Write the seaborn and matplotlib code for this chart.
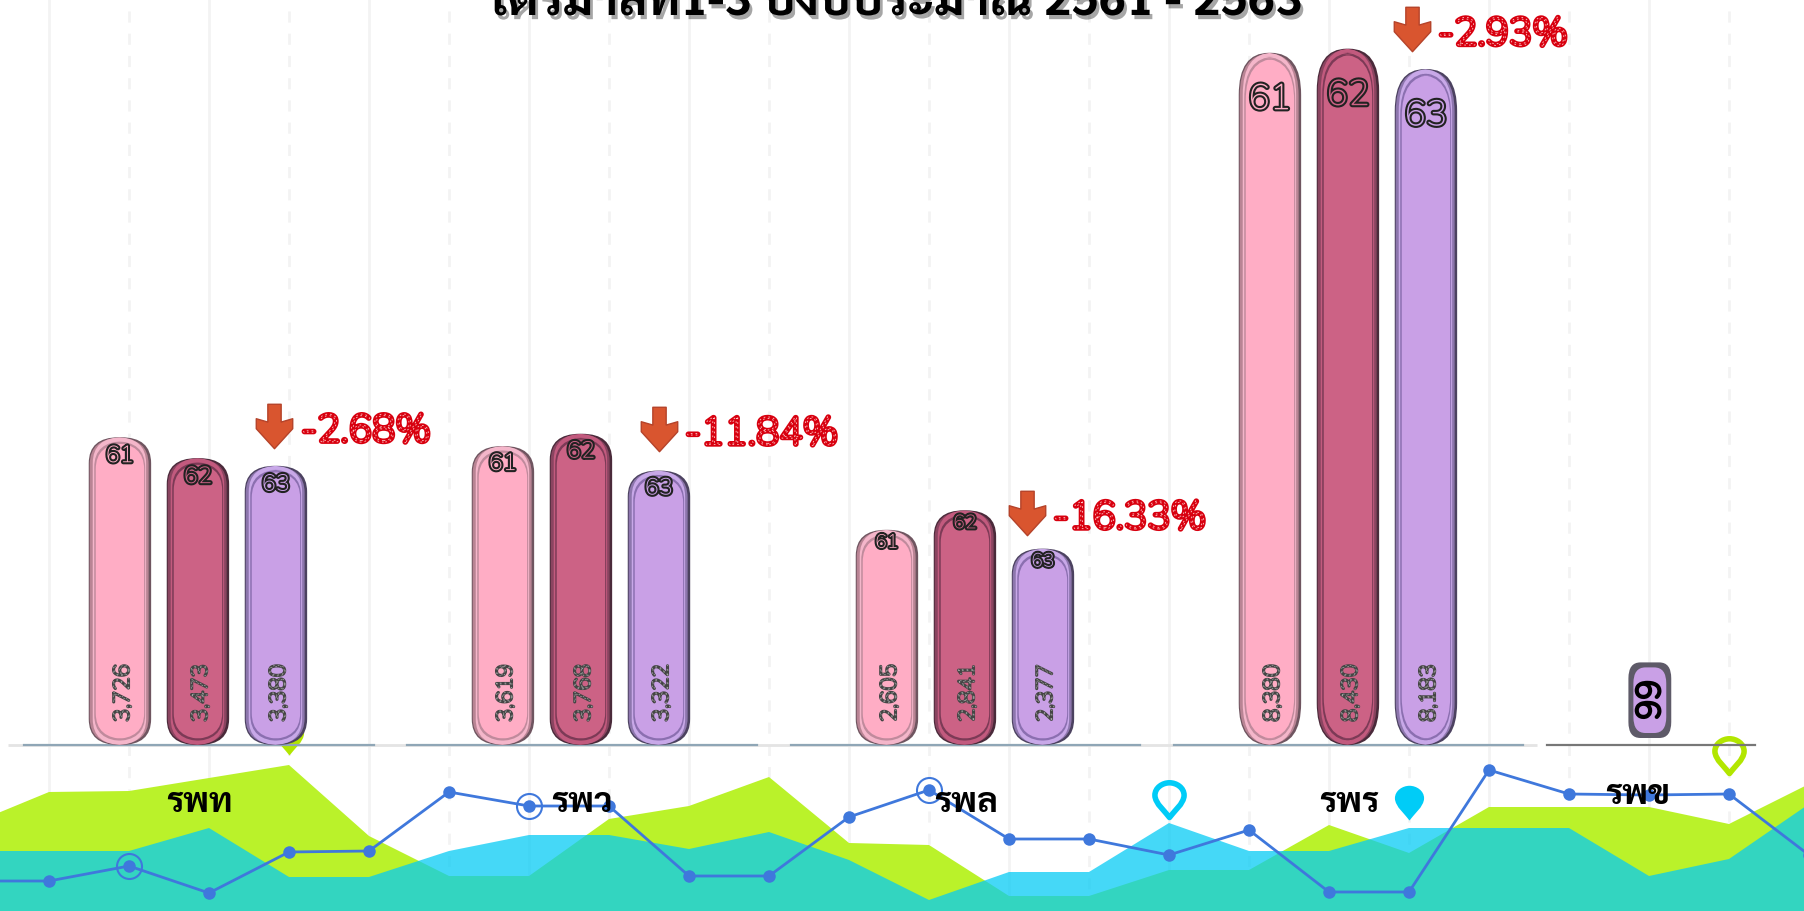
import matplotlib
matplotlib.use("Agg")
import matplotlib.pyplot as plt
import matplotlib.patheffects as pe
from matplotlib.patches import FancyBboxPatch
from matplotlib.path import Path
from matplotlib.transforms import offset_copy
import seaborn as sns
import pandas as pd
import logging

logging.getLogger('matplotlib.font_manager').setLevel(logging.ERROR)

# data
hospitals = ['รพท', 'รพว', 'รพล', 'รพร']
years = ['61', '62', '63']
values = [[3726, 3473, 3380], [3619, 3768, 3322], [2605, 2841, 2377], [8380, 8430, 8183]]
changes = ['-2.68%', '-11.84%', '-16.33%', '-2.93%']
last_hospital = 'รพข'
last_year = '66'
last_value = 1000
title = 'ไตรมาสที่1-3 ปีงบประมาณ 2561 - 2563'

# background series, one point every 80 px
bg_idx = list(range(-1, 23))
lime_vals = [86, 119, 120, 133, 146, 75, 35, 35, 92, 105, 134, 68, 66, 15, 15, 41, 41, 86, 58, 104, 104, 104, 87, 127]
blue_vals = [60, 60, 60, 83, 34, 34, 60, 76, 76, 62, 79, 51, 11, 39, 39, 88, 60, 60, 83, 83, 83, 35, 52, 107]
line_vals = [30, 30, 45, 18, 59, 60, 119, 105, 105, 35, 35, 94, 121, 72, 72, 56, 81, 19, 19, 141, 117, 116, 117, 56]
ring_idx = [1, 6, 11]
pin_idx = [3, 14, 17, 21]
pin_vals = [156, 94, 91, 138]

sns.set_style("white")
thai = ['Sarabun', 'Noto Sans Thai', 'DejaVu Sans']
plt.rcParams['font.family'] = thai
round_font = ['Nunito', 'DejaVu Sans']

W, H = 1804, 911
BASE = 745  # pixel row of bar baseline
fig = plt.figure(figsize=(W / 100, H / 100), dpi=100, facecolor='white')


class Dotted(pe.AbstractPathEffect):
    # dotted stroke along the glyph outline
    def __init__(self, color, lw):
        super().__init__()
        self.color, self.lw = color, lw

    def draw_path(self, renderer, gc, tpath, affine, rgbFace=None):
        gc0 = renderer.new_gc()
        gc0.copy_properties(gc)
        gc0.set_foreground(self.color)
        gc0.set_linewidth(self.lw)
        gc0.set_dashes(0, [1.2, 2.2])
        renderer.draw_path(gc0, tpath, affine + self._offset_transform(renderer), None)
        gc0.restore()


# background chart
bg = fig.add_axes([0, 0, 1, 1], zorder=0)
bg.set_xlim(-49 / 80, (W - 49) / 80)
bg.set_ylim(0, H)
bg.fill_between(bg_idx, lime_vals, color='#baf22a', lw=0, zorder=2)
bg.fill_between(bg_idx, blue_vals, color='#04cbf5', alpha=0.74, lw=0, zorder=3)
df_line = pd.DataFrame({'i': bg_idx, 'v': line_vals})
sns.lineplot(data=df_line, x='i', y='v', color='#3f78dc', lw=2, marker='o', ms=9, mew=0, ax=bg, zorder=4)
rings = df_line[df_line['i'].isin(ring_idx)]
bg.plot(rings['i'], rings['v'], ls='', marker='o', ms=18, mfc='none', mec='#3f78dc', mew=1.5, zorder=4)

pin = Path([(0, 0), (-.1, .15), (-.42, .4), (-.42, .64), (-.42, .86), (-.2, 1), (0, 1),
            (.2, 1), (.42, .86), (.42, .64), (.42, .4), (.1, .15), (0, 0), (0, 0)],
           [1, 4, 4, 4, 4, 4, 4, 4, 4, 4, 4, 4, 4, 79])
pin_style = [('#b2e600', True), ('#00ccf7', False), ('#00ccf7', True), ('#b2e600', False)]
for i, v, (c, filled) in zip(pin_idx, pin_vals, pin_style):
    bg.plot([i], [v], ls='', marker=pin, ms=50, mfc=c if filled else 'none',
            mec=c, mew=0 if filled else 4, zorder=5)

bg.set_xticks(range(0, 22, 2))
bg.set_xticks(range(1, 22, 2), minor=True)
bg.grid(True, which='major', axis='x', color='#f3f3f3', lw=2)
bg.grid(True, which='minor', axis='x', color='#f3f3f3', lw=2, ls=(0, (4, 4)))
bg.set_axisbelow(True)
bg.tick_params(which='both', length=0, labelbottom=False, labelleft=False)
bg.set(xlabel='', ylabel='')
for s in bg.spines.values():
    s.set_visible(False)
bg.hlines(H - BASE, -0.51, 18.6, color='#e4e4e4', lw=2, zorder=1)

fig.text(894 / W, 1 - 15 / H, title, ha='center', va='baseline', fontsize=35, fontweight='bold',
         color='black', path_effects=[pe.withSimplePatchShadow(offset=(2, -3), alpha=0.35)])

# bar panels
bar_colors = {'61': '#ffadc5', '62': '#cc6285', '63': '#c9a0e6', '66': '#c9a0e6'}
light_colors = {'61': '#f4b6ca', '62': '#c25a7e', '63': '#c8a8e8', '66': '#5e5a68'}
mid_colors = {'61': '#b98494', '62': '#8a4460', '63': '#8d76ad', '66': '#5e5a68'}
dark_colors = {'61': '#6f5560', '62': '#4a2a3a', '63': '#4c4260', '66': '#5e5a68'}
line_colors = {'61': '#c08a9c', '62': '#7c3a56', '63': '#8b6fb0', '66': '#c9a0e6'}

panel_px = [(24, 374), (407, 757), (791, 1140), (1174, 1523)]
YMAX = BASE / 0.0826
UNIT = 78
sy = BASE / YMAX


def rounded_bar(ax, bar, year, rx, ry, layers=True, lift=0):
    # rebuild a seaborn bar as a bevelled rounded capsule
    x, w, h = bar.get_x(), bar.get_width(), bar.get_height()
    bar.set_visible(False)

    def capsule(left, right, top, bottom, color, z):
        r = rx / UNIT
        bottom += lift
        p = FancyBboxPatch((x + left / UNIT, bottom / sy), w - (left + right) / UNIT, h - (top + bottom) / sy,
                           boxstyle=f'round,pad=0,rounding_size={r}',
                           mutation_aspect=(ry / sy) / r, fc=color, ec='none', zorder=z, clip_on=False)
        ax.add_patch(p)
    capsule(0, 0, 0, 0, dark_colors[year], 3)
    if layers:
        capsule(1, 2.5, 1, 1, mid_colors[year], 3.1)
        capsule(4, 5, 0, 0, light_colors[year], 3.2)
        capsule(5.5, 6, 4, 4, line_colors[year], 3.3)
        capsule(7, 7, 6, 6, bar_colors[year], 3.4)
    else:
        capsule(5, 5, 5, 5, bar_colors[year], 3.4)


arrow = Path([(-.3, 1), (.3, 1), (.3, .2), (.82, .35), (.82, -.1), (0, -1), (-.82, -.1), (-.82, .35), (-.3, .2), (-.3, 1)],
             [1, 2, 2, 2, 2, 2, 2, 2, 2, 79])
arrow_dx = [-2, 0, -16, -14]
arrow_dy = [40, 42, 36, 40]
text_dx = [25, 26, 10, 12]
text_dy = [34, 36, 30, 34]
year_size = [17, 17, 14, 26]
year_drop = [19, 18, 13, 47]
corner_ry = [26, 26, 26, 42]

for g, (hosp, vals, chg, (l, r)) in enumerate(zip(hospitals, values, changes, panel_px)):
    ax = fig.add_axes([l / W, (H - BASE) / H, (r - l) / W, BASE / H], zorder=2)
    ax.patch.set_alpha(0)
    d = pd.DataFrame({'year': years, 'value': vals})
    sns.barplot(data=d, x='year', y='value', hue='year', palette=bar_colors, dodge=False,
                width=0.8, legend=False, ax=ax)
    ax.set_xlim(-1.23, (r - l) / UNIT - 1.23)
    ax.set_ylim(0, YMAX)
    for bar, yr in zip(list(ax.patches), years):
        rounded_bar(ax, bar, yr, 30, corner_ry[g])
    for i, (yr, v) in enumerate(zip(years, vals)):
        ax.annotate(yr, xy=(i, v), xytext=(0, -year_drop[g]), textcoords='offset pixels', ha='center', va='center',
                    fontsize=year_size[g], color=bar_colors[yr], family=round_font, fontweight='bold', zorder=6,
                    path_effects=[pe.withStroke(linewidth=3, foreground='#222222')])
        ax.annotate(f'{v:,}', xy=(i, 0), xytext=(3, 23), textcoords='offset pixels', ha='center', va='bottom',
                    rotation=90, fontsize=16, color='#454545', family=round_font, fontweight='bold', zorder=6,
                    path_effects=[pe.Stroke(linewidth=1.6, foreground='#454545'), pe.Normal(), Dotted('#a8a8a8', 0.5)])
    tr = offset_copy(ax.transData, fig=fig, x=arrow_dx[g], y=arrow_dy[g], units='dots')
    ax.plot([2], [vals[2]], ls='', marker=arrow, ms=32, mfc='#d9552f', mec='#b5432a', mew=1, transform=tr,
            clip_on=False, zorder=6)
    ax.annotate(chg, xy=(2, vals[2]), xytext=(text_dx[g], text_dy[g]), textcoords='offset pixels', ha='left', va='center',
                fontsize=28, color='#d8000f', family=round_font, fontweight='bold', zorder=6,
                annotation_clip=False,
                path_effects=[pe.Stroke(linewidth=3, foreground='#d8000f'), pe.Normal(), Dotted('#ffc8c8', 0.6)])
    ax.annotate(hosp, xy=(1, 0), xytext=(1, -58), textcoords='offset pixels', ha='center', va='center',
                fontsize=25, color='black', fontweight='bold', annotation_clip=False, zorder=6)
    ax.set(xticks=[], yticks=[], xlabel='', ylabel='')
    for name, s in ax.spines.items():
        s.set_visible(name == 'bottom')
    ax.spines['bottom'].set_color('#8fa6b6')
    ax.spines['bottom'].set_linewidth(1.6)

# last panel, single bar
ax = fig.add_axes([1547 / W, (H - BASE) / H, 208 / W, BASE / H], zorder=2)
ax.patch.set_alpha(0)
d = pd.DataFrame({'year': [last_year], 'value': [last_value]})
sns.barplot(data=d, x='year', y='value', hue='year', palette=bar_colors, dodge=False, width=0.55, legend=False, ax=ax)
ax.set_xlim(-1.32, 1.35)
ax.set_ylim(0, YMAX)
rounded_bar(ax, ax.patches[0], last_year, 12, 16, layers=False, lift=7)
ax.annotate(last_year, xy=(0, last_value / 2), xytext=(-4, 4), textcoords='offset pixels', ha='center', va='center',
            rotation=-90, fontsize=24, fontweight='bold', color='black', family=round_font, zorder=6,
            path_effects=[pe.withStroke(linewidth=2, foreground='black')])
ax.annotate(last_hospital, xy=(0, 0), xytext=(-12, -50), textcoords='offset pixels', ha='center', va='center',
            fontsize=25, color='black', fontweight='bold', annotation_clip=False, zorder=6)
ax.set(xticks=[], yticks=[], xlabel='', ylabel='')
for name, s in ax.spines.items():
    s.set_visible(name == 'bottom')
ax.spines['bottom'].set_color('#777777')
ax.spines['bottom'].set_linewidth(1.6)

fig.savefig('out.png', dpi=100)
